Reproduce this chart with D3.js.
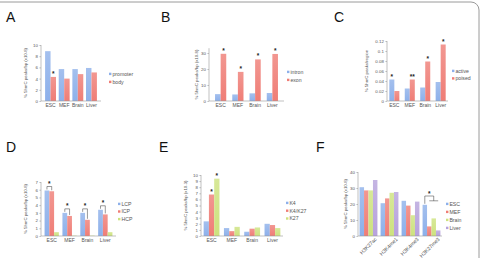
<!DOCTYPE html>
<html>
<head>
<meta charset="utf-8">
<script src="https://cdn.jsdelivr.net/npm/d3@7"></script>
<style>
  body { margin: 0; background: #fff; }
  svg { display: block; font-family: "Liberation Sans", Arial, sans-serif; }
  .axis path, .axis line { stroke: #999; stroke-width: 0.6; }
  .axis text { fill: #555; }
</style>
</head>
<body>
<div id="fig"></div>
<script>
// categories
const tissues = ["ESC", "MEF", "Brain", "Liver"];
const marks = ["H3K27ac", "H3K4me1", "H3K4me3", "H3K27me3"];

// A: promoter vs body
const aPromoter = [8.9, 5.7, 5.7, 5.9];
const aBody = [4.3, 4.0, 4.8, 5.1];
// B: intron vs exon
const bIntron = [4.3, 4.1, 4.8, 5.0];
const bExon = [29.5, 18.2, 26.0, 29.4];
// C: active vs poised
const cActive = [0.043, 0.025, 0.027, 0.038];
const cPoised = [0.020, 0.043, 0.079, 0.113];
// D: LCP / ICP / HCP
const dLCP = [5.9, 3.0, 3.0, 3.4];
const dICP = [5.8, 2.6, 2.1, 2.8];
const dHCP = [0.5, 0.05, 0.05, 0.5];
// E: K4 / K4K27 / K27
const eK4 = [2.4, 1.3, 0.7, 2.0];
const eK4K27 = [6.8, 0.8, 1.2, 1.8];
const eK27 = [9.4, 1.5, 1.4, 1.3];
// F: histone marks by tissue
const fESC = [30.5, 20.5, 22.0, 19.5];
const fMEF = [28.5, 23.5, 19.0, 6.0];
const fBrain = [28.5, 27.0, 13.0, 11.0];
const fLiver = [35.0, 27.5, 21.5, 3.5];

// ticks
const aTicks = [0, 2, 4, 6, 8, 10];
const bTicks = [0, 10, 20, 30];
const cTicks = [0, 0.02, 0.04, 0.06, 0.08, 0.1, 0.12];
const dTicks = [0, 1, 2, 3, 4, 5, 6, 7];
const eTicks = [0, 1, 2, 3, 4, 5, 6, 7, 8, 9, 10];
const fTicks = [0, 10, 20, 30, 40];

const blue = "#8db0ea", red = "#ef7d76", green = "#cde27e", purple = "#b7a2dc";

const w = 482, h = 258;
const svg = d3.select("#fig").append("svg").attr("width", w).attr("height", h);

// gradients: lighter at the top of each bar
const defs = svg.append("defs");
[["gBlue", blue], ["gRed", red], ["gGreen", green], ["gPurple", purple]].forEach(([id, c]) => {
    const g = defs.append("linearGradient").attr("id", id)
        .attr("x1", 0).attr("y1", 0).attr("x2", 0).attr("y2", 1);
    g.append("stop").attr("offset", "0%").attr("stop-color", d3.interpolateRgb(c, "#fff")(0.2));
    g.append("stop").attr("offset", "100%").attr("stop-color", c);
});
const fillOf = {};
fillOf[blue] = "url(#gBlue)"; fillOf[red] = "url(#gRed)";
fillOf[green] = "url(#gGreen)"; fillOf[purple] = "url(#gPurple)";

// outer frame (cropped rounded box)
svg.append("rect").attr("x", -20).attr("y", 2).attr("width", 499).attr("height", 300)
   .attr("rx", 8).attr("fill", "none").attr("stroke", "#9a9a9a").attr("stroke-width", 1);

const panel = p => {
    const g = svg.append("g");
    const x = d3.scaleBand().domain(p.cats).range(p.xr)
                .paddingInner(p.pi).paddingOuter(p.po);
    const x1 = d3.scaleBand().domain(d3.range(p.series.length))
                 .range([0, x.bandwidth()]);
    const y = d3.scaleLinear().domain(p.yd).range([p.base, p.top]);

    p.series.forEach((s, si) => {
        g.selectAll(null).data(s.values).enter().append("rect")
         .attr("x", (d, i) => x(p.cats[i]) + x1(si))
         .attr("width", x1.bandwidth())
         .attr("y", d => y(d))
         .attr("height", d => p.base - y(d))
         .attr("fill", fillOf[s.color]);
    });

    const ya = g.append("g").attr("class", "axis")
        .attr("transform", "translate(" + p.xr[0] + ",0)")
        .call(d3.axisLeft(y).tickValues(p.ticks).tickSize(1.6).tickPadding(1.5)
              .tickFormat(p.fmt || d3.format("")));
    ya.selectAll("text").attr("font-size", 4.4);
    ya.select(".domain").attr("d", "M0," + p.base + "V" + y(p.yd[1]));

    const xa = g.append("g").attr("class", "axis")
        .attr("transform", "translate(0," + p.base + ")")
        .call(d3.axisBottom(x).tickSize(0).tickPadding(p.rot ? 2 : 2.5));
    xa.select(".domain").attr("d", "M" + p.xr[0] + ",0H" + p.xr[1]);
    xa.selectAll("text").attr("font-size", p.rot ? 5.2 : 5).attr("fill", "#444");
    if (p.rot) {
        xa.selectAll("text").attr("text-anchor", "end")
          .attr("transform", "translate(5,0) rotate(-45)").attr("dy", "0.6em");
    }

    // y label
    g.append("text").attr("text-anchor", "middle").attr("font-size", 4.3).attr("fill", "#555")
     .attr("transform", "translate(" + p.ylx + "," + ((p.base + p.top) / 2) + ")rotate(-90)")
     .text(p.ylabel);

    // legend
    p.series.forEach((s, si) => {
        const ly = p.ly + si * p.lstep;
        g.append("rect").attr("x", p.lx).attr("y", ly - 1.3).attr("width", 2.4).attr("height", 2.4)
         .attr("fill", s.color);
        g.append("text").attr("x", p.lx + 3.4).attr("y", ly).attr("dy", "0.35em")
         .attr("font-size", 5.2).attr("fill", "#555").text(s.name);
    });

    // panel letter
    svg.append("text").attr("x", p.letter[0]).attr("y", p.letter[1])
       .attr("font-size", 14).attr("fill", "#111").text(p.name);

    return {g, x, x1, y};
};

const star = (g, cx, cy, txt) => {
    g.append("text").attr("x", cx).attr("y", cy).attr("text-anchor", "middle")
     .attr("font-size", 6.5).attr("font-weight", "bold").attr("fill", "#222").text(txt || "*");
};
const barCenter = (P, cat, si) => P.x(cat) + P.x1(si) + P.x1.bandwidth() / 2;

const ylab8 = "% 5hmC peaks/bp (x10-8)";

// A
const A = panel({name: "A", letter: [6, 22], cats: tissues, xr: [41, 101], pi: 0.2, po: 0.3,
    yd: [0, 10], base: 101, top: 45, ticks: aTicks, ylx: 27, ylabel: ylab8,
    lx: 109, ly: 74, lstep: 8,
    series: [{name: "promoter", values: aPromoter, color: blue},
             {name: "body", values: aBody, color: red}]});
star(A.g, barCenter(A, "ESC", 1), A.y(aBody[0]) - 0.5);

// B
const B = panel({name: "B", letter: [161, 22], cats: tissues, xr: [209, 284], pi: 0.35, po: 0.35,
    yd: [0, 33], base: 101, top: 48.2, ticks: bTicks, ylx: 198, ylabel: ylab8,
    lx: 287, ly: 72, lstep: 8,
    series: [{name: "intron", values: bIntron, color: blue},
             {name: "exon", values: bExon, color: red}]});
tissues.forEach((c, i) => star(B.g, barCenter(B, c, 1), B.y(bExon[i]) - 1));

// C
const C = panel({name: "C", letter: [334, 22], cats: tissues, xr: [387, 448], pi: 0.35, po: 0.15,
    yd: [0, 0.12], base: 101, top: 41, ticks: cTicks, ylx: 368, ylabel: "% 5hmC peaks/region",
    fmt: d3.format(""),
    lx: 452, ly: 71, lstep: 7.5,
    series: [{name: "active", values: cActive, color: blue},
             {name: "poised", values: cPoised, color: red}]});
star(C.g, barCenter(C, "ESC", 0), C.y(cActive[0]) - 1);
star(C.g, barCenter(C, "MEF", 1), C.y(cPoised[1]) - 1, "**");
star(C.g, barCenter(C, "Brain", 1), C.y(cPoised[2]) - 1);
star(C.g, barCenter(C, "Liver", 1), C.y(cPoised[3]) - 1);

// D
const D = panel({name: "D", letter: [6, 152], cats: tissues, xr: [41, 116], pi: 0.2, po: 0.2,
    yd: [0, 7], base: 236, top: 182, ticks: dTicks, ylx: 27, ylabel: ylab8,
    lx: 118, ly: 204, lstep: 7.6,
    series: [{name: "LCP", values: dLCP, color: blue},
             {name: "ICP", values: dICP, color: red},
             {name: "HCP", values: dHCP, color: green}]});
tissues.forEach((c, i) => {
    const xl = barCenter(D, c, 0), xr = barCenter(D, c, 1);
    const yb = D.y(Math.max(dLCP[i], dICP[i])) - 4;
    D.g.append("path").attr("fill", "none").attr("stroke", "#333").attr("stroke-width", 0.5)
       .attr("d", "M" + xl + "," + (D.y(dLCP[i]) - 1) + "V" + yb + "H" + xr + "V" + (D.y(dICP[i]) - 1));
    star(D.g, (xl + xr) / 2, yb - 0.5);
});

// E
const E = panel({name: "E", letter: [159, 152], cats: tissues, xr: [201, 283], pi: 0.22, po: 0.13,
    yd: [0, 10], base: 236, top: 175, ticks: eTicks, ylx: 187, ylabel: "% 5hmC peaks/bp (x10-3)",
    lx: 286, ly: 203, lstep: 7.8,
    series: [{name: "K4", values: eK4, color: blue},
             {name: "K4/K27", values: eK4K27, color: red},
             {name: "K27", values: eK27, color: green}]});
star(E.g, barCenter(E, "ESC", 1), E.y(eK4K27[0]) - 1);
star(E.g, barCenter(E, "ESC", 2), E.y(eK27[0]) - 1);

// F
const F = panel({name: "F", letter: [316, 152], cats: marks, xr: [358, 442], pi: 0.15, po: 0.075,
    yd: [0, 40], base: 236, top: 172, ticks: fTicks, ylx: 347, ylabel: ylab8, rot: true,
    lx: 446, ly: 204, lstep: 8,
    series: [{name: "ESC", values: fESC, color: blue},
             {name: "MEF", values: fMEF, color: red},
             {name: "Brain", values: fBrain, color: green},
             {name: "Liver", values: fLiver, color: purple}]});
{
    const c = "H3K27me3";
    const x0 = barCenter(F, c, 0), x2 = barCenter(F, c, 2);
    const xa = barCenter(F, c, 1), xb = barCenter(F, c, 3);
    const yTop = F.y(25), yLow = F.y(22);
    F.g.append("path").attr("fill", "none").attr("stroke", "#333").attr("stroke-width", 0.5)
       .attr("d", "M" + x0 + "," + (F.y(fESC[3]) - 1) + "V" + yTop + "H" + x2 + "V" + yLow
             + "M" + xa + "," + yLow + "H" + xb);
    star(F.g, (x0 + x2) / 2, yTop - 0.5);
}
</script>
</body>
</html>
